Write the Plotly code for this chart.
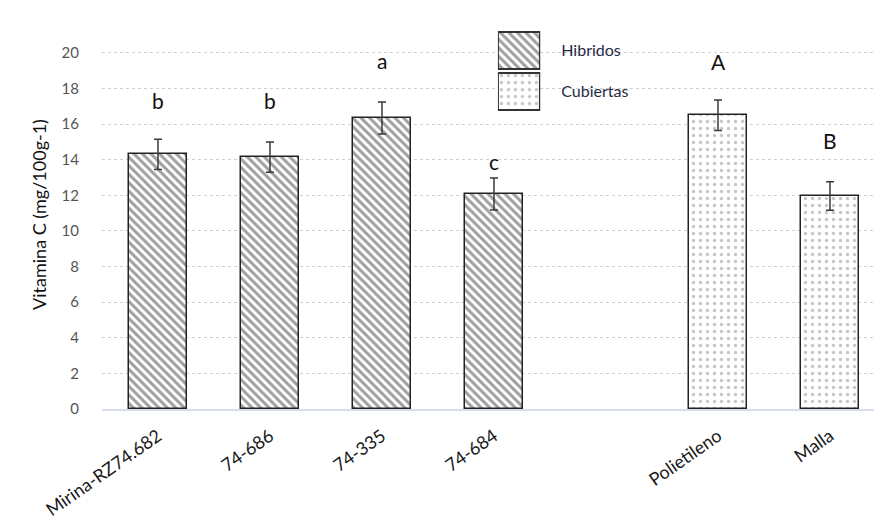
import plotly.graph_objects as go

# ---- data ----
hib_labels = ["Mirina-RZ74.682", "74-686", "74-335", "74-684"]
hib_values = [14.3, 14.15, 16.35, 12.08]
hib_errors = [0.85, 0.85, 0.9, 0.9]
hib_letters = ["b", "b", "a", "c"]
hib_letter_y = [17.35, 17.35, 19.6, 13.9]

cub_labels = ["Polietileno", "Malla"]
cub_values = [16.5, 11.97]
cub_errors = [0.85, 0.8]
cub_letters = ["A", "B"]
cub_letter_y = [19.5, 15.1]

legend_names = ["Hibridos", "Cubiertas"]
y_ticks = list(range(0, 21, 2))

# positions: 4 hybrids, one empty slot, 2 covers
hib_x = [0, 1, 2, 3]
cub_x = [5, 6]

FONT = "Lato, 'Open Sans', sans-serif"
hib_pattern = dict(shape="\\", fgcolor="#3f3f3f", bgcolor="white", size=6, solidity=0.5)
cub_pattern = dict(shape=".", fgcolor="#8c8c8c", bgcolor="white", size=7, solidity=0.18)

fig = go.Figure()

fig.add_trace(go.Bar(
    x=hib_x, y=hib_values, width=0.51,
    marker=dict(color="white", pattern=hib_pattern, line=dict(color="#222222", width=1.5)),
    error_y=dict(type="data", array=hib_errors, color="#3a3a3a", thickness=1.5, width=4),
    showlegend=False, xaxis="x", yaxis="y",
))
fig.add_trace(go.Bar(
    x=cub_x, y=cub_values, width=0.51,
    marker=dict(color="white", pattern=cub_pattern, line=dict(color="#222222", width=1.5)),
    error_y=dict(type="data", array=cub_errors, color="#3a3a3a", thickness=1.5, width=4),
    showlegend=False, xaxis="x", yaxis="y",
))

# legend drawn as small inset bar subplot
fig.add_trace(go.Bar(
    y=[legend_names[0]], x=[1], orientation="h", width=0.9,
    marker=dict(color="white", pattern=hib_pattern, line=dict(color="#333333", width=2)),
    showlegend=False, xaxis="x2", yaxis="y2", hoverinfo="skip",
))
fig.add_trace(go.Bar(
    y=[legend_names[1]], x=[1], orientation="h", width=0.9,
    marker=dict(color="white", pattern=cub_pattern, line=dict(color="#333333", width=2)),
    showlegend=False, xaxis="x2", yaxis="y2", hoverinfo="skip",
))

annotations = []
for xs, letters, ys in [(hib_x, hib_letters, hib_letter_y), (cub_x, cub_letters, cub_letter_y)]:
    for xv, t, yv in zip(xs, letters, ys):
        annotations.append(dict(x=xv, y=yv, xref="x", yref="y", text=t, showarrow=False,
                                font=dict(family=FONT, size=21, color="#111111"),
                                xanchor="center", yanchor="middle"))

fig.update_layout(
    width=882, height=527,
    margin=dict(l=94, r=4, t=12, b=126),
    paper_bgcolor="white", plot_bgcolor="rgba(0,0,0,0)",
    font=dict(family=FONT),
    annotations=annotations,
    bargap=0,
    xaxis=dict(
        domain=[0, 1], range=[-0.5, 6.5],
        tickvals=hib_x + cub_x, ticktext=hib_labels + cub_labels,
        tickangle=-35, tickfont=dict(size=18, color="#1a1a1a"),
        showgrid=False, zeroline=False, showline=True, linecolor="#d6dde8", linewidth=1.5,
        ticks="", ticklabelstandoff=8, automargin=False,
    ),
    yaxis=dict(
        domain=[0, 1], range=[0, 21.85],
        tickvals=y_ticks, tickfont=dict(size=15, color="#555555"),
        showgrid=True, gridcolor="#cfcfcf", griddash="dot", gridwidth=1,
        zeroline=False, showline=False, ticks="", ticklabelstandoff=22,
        title=dict(text="Vitamina C (mg/100g-1)", font=dict(size=18, color="#111111"), standoff=10),
        automargin=False,
    ),
    xaxis2=dict(domain=[0.505, 0.559], range=[0, 1], anchor="y2",
                showgrid=False, zeroline=False, showticklabels=False, showline=False, fixedrange=True),
    yaxis2=dict(domain=[0.763, 0.974], anchor="x2", side="right",
                categoryorder="array", categoryarray=legend_names[::-1],
                showgrid=False, zeroline=False, showline=False, ticks="",
                tickfont=dict(size=16, color="#1f2a44"), ticklabelstandoff=20, fixedrange=True),
)

fig.write_html("out.html")
